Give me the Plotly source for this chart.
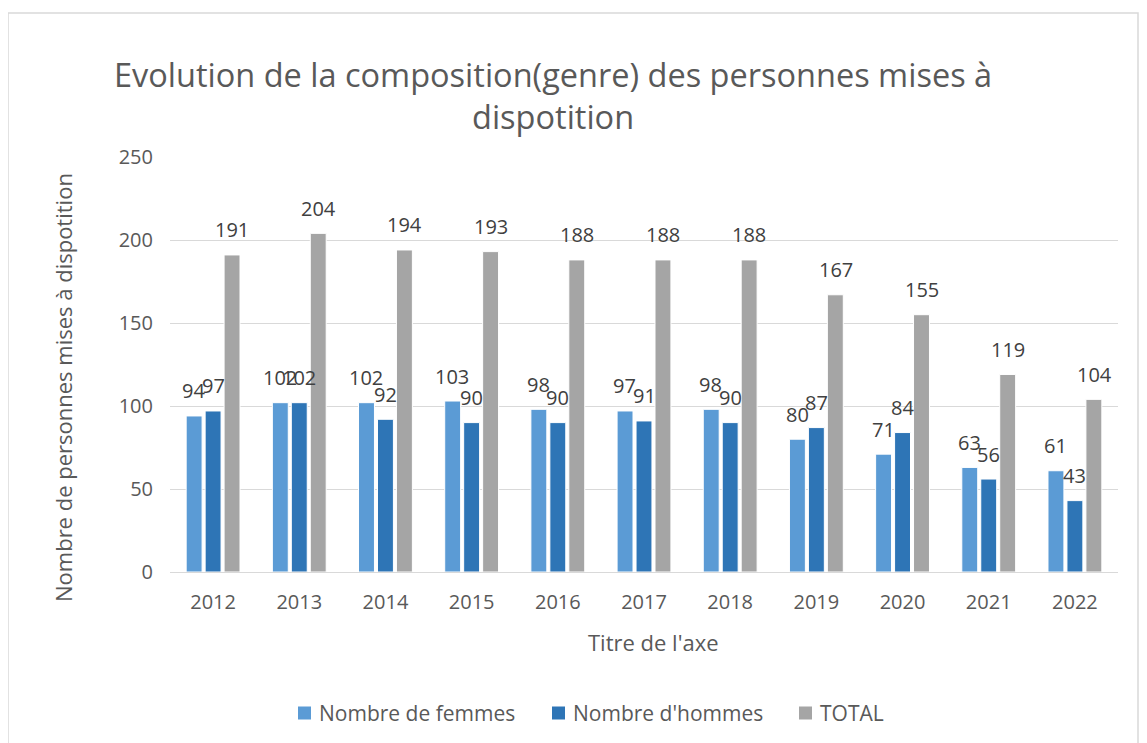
import plotly.graph_objects as go

years = ["2012", "2013", "2014", "2015", "2016", "2017", "2018", "2019", "2020", "2021", "2022"]
femmes = [94, 102, 102, 103, 98, 97, 98, 80, 71, 63, 61]
hommes = [97, 102, 92, 90, 90, 91, 90, 87, 84, 56, 43]
total = [191, 204, 194, 193, 188, 188, 188, 167, 155, 119, 104]
series_names = ["Nombre de femmes", "Nombre d'hommes", "TOTAL"]
colors = ["#5b9bd5", "#2e75b6", "#a5a5a5"]

OFF = 8  # page body margin
W, H = 1147 - OFF, 743 - OFF
L, R, T, B = 170 - OFF, 1118 - OFF, 157 - OFF, 572 - OFF
FONT = "Open Sans, sans-serif"

def px2x(px):
    return (px - OFF - L) / (R - L)

def py2y(py):
    return (B - (py - OFF)) / (B - T)

fig = go.Figure()
annotations = []
shapes = []
legend_x = [298, 552, 799]  # left edge of each legend swatch (screen px)
for i, (name, vals, col) in enumerate(zip(series_names, [femmes, hommes, total], colors)):
    fig.add_trace(go.Bar(
        x=years, y=vals, name=name,
        marker=dict(color=col, line=dict(color="white", width=1)),
        hoverinfo="x+y+name", showlegend=False,
    ))
    for j, v in enumerate(vals):
        annotations.append(dict(
            x=j, y=v, xref="x", yref="y", text=str(v), showarrow=False,
            xshift=(i - 1) * 19.2, yshift=25, yanchor="middle", xanchor="center",
            font=dict(size=20, color="#404040", family=FONT)))
    # custom legend entry
    lx = legend_x[i]
    shapes.append(dict(type="rect", xref="paper", yref="paper",
                       x0=px2x(lx), x1=px2x(lx + 13), y0=py2y(719.5), y1=py2y(706.5),
                       line=dict(width=0), fillcolor=col))
    annotations.append(dict(
        x=px2x(lx + 19), y=py2y(713), xref="paper", yref="paper", showarrow=False,
        text=name, xanchor="left", yanchor="middle",
        font=dict(size=21, color="#595959", family=FONT)))

annotations.append(dict(
    x=px2x(553), y=py2y(95), xref="paper", yref="paper", showarrow=False,
    text="Evolution de la composition(genre) des personnes mises à<br>dispotition",
    font=dict(size=32.5, color="#595959", family=FONT), xanchor="center", yanchor="middle"))
annotations.append(dict(
    x=px2x(653), y=py2y(642), xref="paper", yref="paper", showarrow=False,
    text="Titre de l'axe", font=dict(size=22, color="#595959", family=FONT),
    xanchor="center", yanchor="middle"))
annotations.append(dict(
    x=px2x(63), y=py2y(388), xref="paper", yref="paper", showarrow=False,
    text="Nombre de personnes mises à dispotition", textangle=-90,
    font=dict(size=22, color="#595959", family=FONT),
    xanchor="center", yanchor="middle"))

shapes.append(dict(type="rect", xref="paper", yref="paper",
                   x0=px2x(8), x1=px2x(1138), y0=py2y(770), y1=py2y(13),
                   line=dict(color="#d9d9d9", width=1.5), fillcolor="rgba(0,0,0,0)", layer="below"))

fig.update_layout(
    width=W, height=H,
    margin=dict(l=L, r=W - R, t=T, b=H - B, autoexpand=False),
    paper_bgcolor="white", plot_bgcolor="white",
    barmode="group", bargap=0.34, bargroupgap=0.16,
    font=dict(family=FONT, color="#595959", size=20),
    showlegend=False,
    xaxis=dict(type="category", range=[-0.5, len(years) - 0.5],
               showgrid=False, showline=False, ticks="",
               ticklabelstandoff=16,
               tickfont=dict(size=20, color="#595959")),
    yaxis=dict(range=[0, 250], dtick=50, gridcolor="#d9d9d9", gridwidth=1.3,
               zeroline=True, zerolinecolor="#d9d9d9", zerolinewidth=1.3,
               showline=False, ticks="", ticklabelstandoff=16,
               tickfont=dict(size=20, color="#595959")),
    annotations=annotations,
    shapes=shapes,
)

fig.write_html("out.html")
